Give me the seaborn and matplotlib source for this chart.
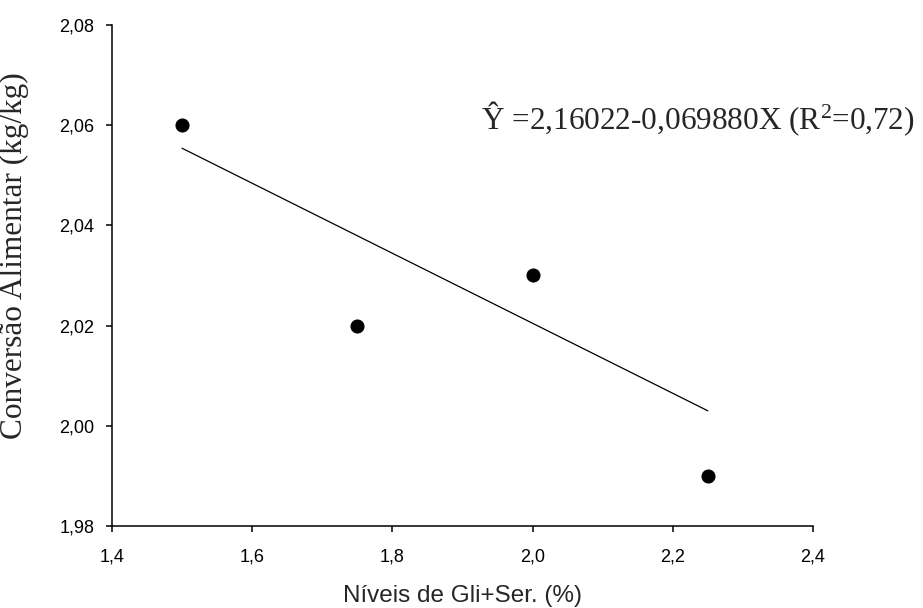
import numpy as np
import pandas as pd
import matplotlib
matplotlib.use("Agg")
import matplotlib.pyplot as plt
from matplotlib.ticker import FuncFormatter
import seaborn as sns

# data
niveis = [1.50, 1.75, 2.00, 2.25]
conversao = [2.06, 2.02, 2.03, 1.99]
intercepto = 2.16022
inclinacao = -0.069880
r2 = 0.72

df = pd.DataFrame({"x": niveis, "y": conversao})
x_fit = np.array([min(niveis), max(niveis)])
fit = pd.DataFrame({"x": x_fit, "y": intercepto + inclinacao * x_fit})

sns.set_style("ticks")
plt.rcParams["font.family"] = ["Liberation Sans", "DejaVu Sans"]
plt.rcParams["mathtext.fontset"] = "custom"
plt.rcParams["mathtext.rm"] = "Liberation Serif"
plt.rcParams["mathtext.it"] = "Liberation Serif:italic"

fig = plt.figure(figsize=(9.23, 6.08), dpi=100)
ax = fig.add_axes([0.1213, 0.1349, 0.7595, 0.8240])

sns.lineplot(data=fit, x="x", y="y", color="black", linewidth=0.9, ax=ax)
sns.scatterplot(data=df, x="x", y="y", color="black", s=88, edgecolor="black", ax=ax, zorder=3)

ax.set_xlim(1.4, 2.4)
ax.set_ylim(1.98, 2.08)
ax.set_xticks(np.arange(1.4, 2.41, 0.2))
ax.set_yticks(np.arange(1.98, 2.081, 0.02))
ax.xaxis.set_major_formatter(FuncFormatter(lambda v, p: f"{v:.1f}".replace(".", ",")))
ax.yaxis.set_major_formatter(FuncFormatter(lambda v, p: f"{v:.2f}".replace(".", ",")))
ax.tick_params(axis="both", direction="out", length=4.5, width=1.1, color="black",
               labelsize=13, labelcolor="black")
ax.tick_params(axis="x", pad=12)
ax.tick_params(axis="y", pad=8)

sns.despine(ax=ax)
for s in ["left", "bottom"]:
    ax.spines[s].set_linewidth(1.1)
    ax.spines[s].set_color("black")

ax.set_xlabel("Níveis de Gli+Ser. (%)", fontsize=17.5)
ax.xaxis.set_label_coords(0.5, -0.117)
ax.set_ylabel("Conversão Alimentar (kg/kg)", fontsize=22.5,
              family=["Liberation Serif", "DejaVu Serif"])
ax.yaxis.set_label_coords(-0.118, 0.54)

eq = "Ŷ =2,16022-0,069880X (R$^{2}$=" + str(r2).replace(".", ",") + ")"
ax.text(1.927, 2.0591, eq, fontsize=22.5, family=["Liberation Serif", "DejaVu Serif"],
        va="baseline", ha="left", clip_on=False)

fig.savefig("out.png", dpi=100)
